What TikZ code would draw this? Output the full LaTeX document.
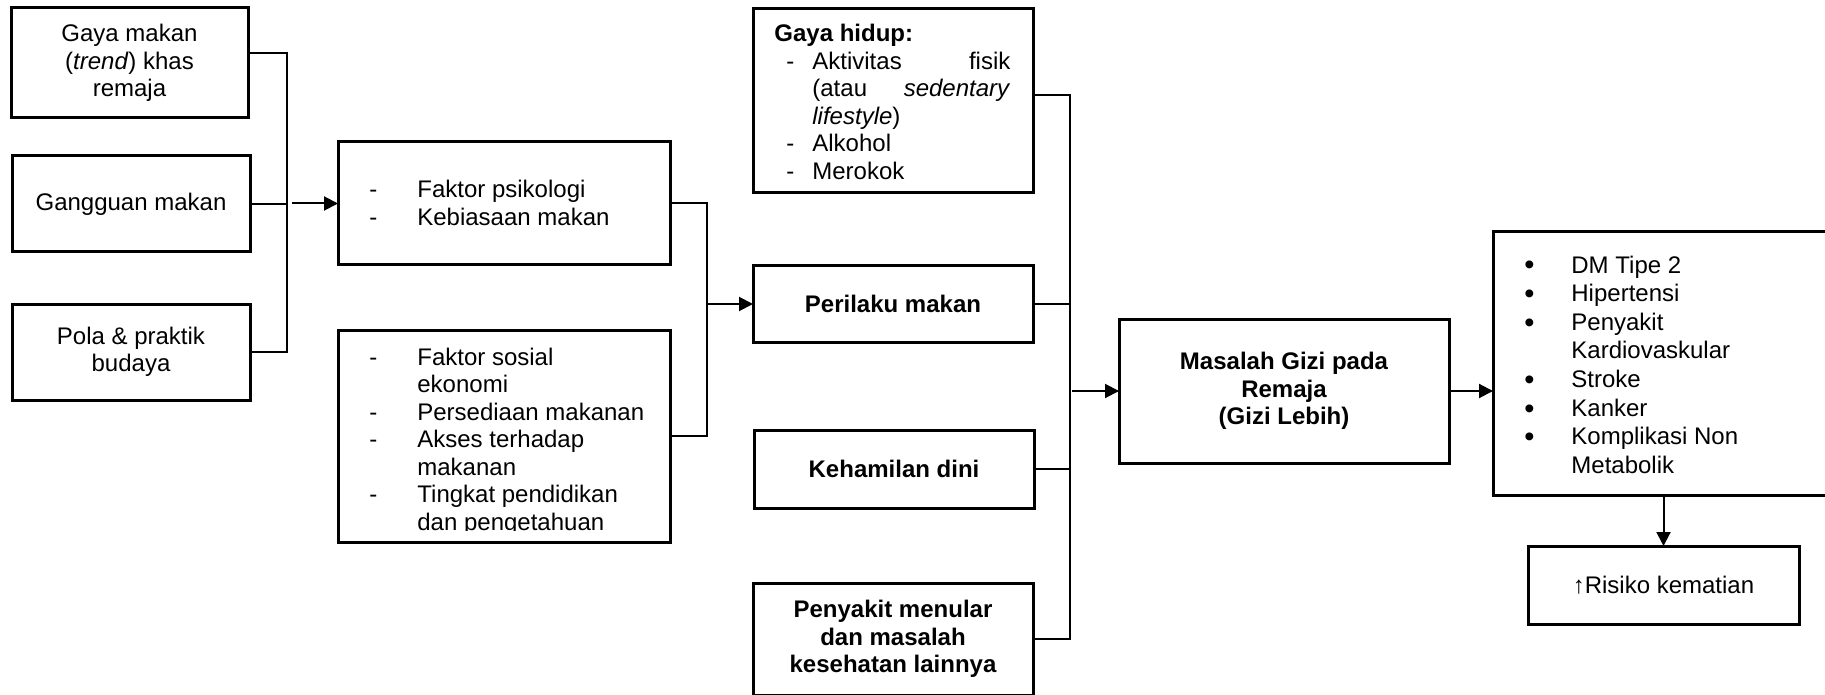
\documentclass[tikz,border=0pt]{standalone}
\usepackage{fontspec}
\setmainfont{Liberation Sans}
\usetikzlibrary{arrows.meta}
\newcommand\myfont{\fontsize{12pt}{13.75pt}\selectfont}
\newcommand\dsh[1]{\makebox[#1][l]{-}}
\newcommand\bul{\makebox[23.5pt][l]{\raisebox{-1pt}{\fontsize{14.5pt}{14.3pt}\selectfont •}}}
\begin{document}
\begin{tikzpicture}[x=0.5pt,y=-0.5pt,
  box/.style={draw, line width=1.5pt, inner sep=0pt, outer sep=0pt, align=center, font=\myfont, line join=miter},
  conn/.style={line width=1pt},
  arr/.style={line width=1pt, -{Triangle[length=7pt,width=7pt]}},
  txt/.style={inner sep=0pt, font=\myfont, anchor=base west}]
\useasboundingbox (0,0) rectangle (1825,695);
\fill[white] (0,0) rectangle (1825,695);
% column 1
\node[box, minimum width=118.5pt, minimum height=55pt] (b1) at (129.5,63) {Gaya makan\\(\textit{trend}) khas\\remaja};
\node[box, minimum width=119pt, minimum height=48pt] (b2) at (131,204) {Gangguan makan};
\node[box, minimum width=119pt, minimum height=48pt] (b3) at (131,352) {Pola \& praktik\\budaya};
% column 2
\node[box, minimum width=166pt, minimum height=61.5pt] (b4) at (504,203.5) {};
\node[txt] (t4) at (369,198) {\begin{tabular}[t]{@{}l@{}l@{}}
\dsh{24pt}& Faktor psikologi\\
\dsh{24pt}& Kebiasaan makan
\end{tabular}};
\node[box, minimum width=166pt, minimum height=106pt] (b5) at (504,436) {};
\begin{scope}
\clip (338,330) rectangle (670,530);
\node[txt] (t5) at (369,365) {\begin{tabular}[t]{@{}l@{}l@{}}
\dsh{24pt}& Faktor sosial\\
& ekonomi\\
\dsh{24pt}& Persediaan makanan\\
\dsh{24pt}& Akses terhadap\\
& makanan\\
\dsh{24pt}& Tingkat pendidikan\\
& dan pengetahuan
\end{tabular}};
\end{scope}
% column 3
\node[box, minimum width=140pt, minimum height=92pt] (b6) at (893,101) {};
\node[txt] (t6) at (774,42) {\begin{tabular}[t]{@{}l@{}l@{}}
\multicolumn{2}{@{}l@{}}{\bfseries Gaya hidup:}\\
\makebox[19pt][l]{\hspace{6pt}-}& \makebox[99pt][s]{Aktivitas fisik}\\
& \makebox[99pt][s]{(atau \textit{sedentary}}\\
& \textit{lifestyle})\\
\makebox[19pt][l]{\hspace{6pt}-}& Alkohol\\
\makebox[19pt][l]{\hspace{6pt}-}& Merokok
\end{tabular}};
\node[box, font=\myfont\bfseries, minimum width=140pt, minimum height=38pt] (b7) at (893,304) {Perilaku makan};
\node[box, font=\myfont\bfseries, minimum width=140pt, minimum height=39pt] (b8) at (894,469) {Kehamilan dini};
\node[box, font=\myfont\bfseries, minimum width=140pt, minimum height=56pt] (b9) at (893,639) {Penyakit menular\\dan masalah\\kesehatan lainnya};
% column 4
\node[box, font=\myfont\bfseries, minimum width=165pt, minimum height=72pt] (b10) at (1284,391) {Masalah Gizi pada\\Remaja\\(Gizi Lebih)};
% column 5
\node[box, minimum width=173.5pt, minimum height=131.5pt] (b11) at (1666.5,363.5) {};
\node[txt, font=\fontsize{12pt}{14.3pt}\selectfont] (t11) at (1524,273) {\begin{tabular}[t]{@{}l@{}l@{}}
\bul& DM Tipe 2\\
\bul& Hipertensi\\
\bul& Penyakit\\
& Kardiovaskular\\
\bul& Stroke\\
\bul& Kanker\\
\bul& Komplikasi Non\\
& Metabolik
\end{tabular}};
\node[box, minimum width=135.5pt, minimum height=39pt] (b12) at (1663.5,585) {↑Risiko kematian};
% bus coordinates
\coordinate (xA) at (287,0);
\coordinate (xB) at (707,0);
\coordinate (xC) at (1070,0);
% connectors level 1
\draw[conn] ([yshift=5pt]b1.east) -| (b3.east -| xA) -- (b3.east);
\draw[conn] (b2.east) -- (b2.east -| xA);
\draw[arr] ([xshift=2.5pt]b4.west -| xA) -- (b4.west);
% level 2
\draw[conn] (b4.east) -| (b5.east -| xB) -- (b5.east);
\draw[arr] (b7.west -| xB) -- (b7.west);
% level 3
\draw[conn] ([yshift=3pt]b6.east) -| (b9.east -| xC) -- (b9.east);
\draw[conn] (b7.east) -- (b7.east -| xC);
\draw[conn] (b8.east) -- (b8.east -| xC);
\draw[arr] ([xshift=1pt]b10.west -| xC) -- (b10.west);
% outputs
\draw[arr] (b10.east) -- (b10.east -| b11.west);
\draw[arr] (b12.north |- b11.south) -- (b12.north);
\end{tikzpicture}
\end{document}
